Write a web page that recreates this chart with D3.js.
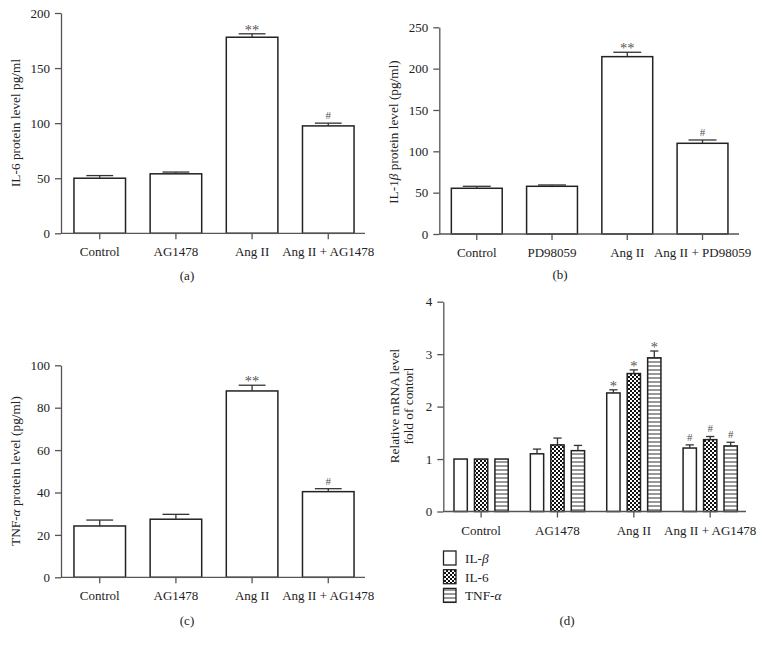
<!DOCTYPE html>
<html><head><meta charset="utf-8">
<script src="https://cdn.jsdelivr.net/npm/d3@7"></script>
<style>
html,body{margin:0;padding:0;background:#fff;}
svg text{font-family:"Liberation Serif","Times New Roman",serif;fill:#222;}
</style></head>
<body><svg id="chart" width="758" height="648"></svg>
<script>
// ---------- data ----------
const groupsAG = ["Control", "AG1478", "Ang II", "Ang II + AG1478"];
const groupsPD = ["Control", "PD98059", "Ang II", "Ang II + PD98059"];

const il6Protein = [50, 54, 178, 97.5];
const il6ProteinErr = [2.4, 1.6, 3.1, 2.5];
const il6ProteinMarks = ["", "", "**", "#"];
const il6Ticks = [0, 50, 100, 150, 200];

const il1bProtein = [55.3, 57.7, 214.5, 109.7];
const il1bProteinErr = [2.4, 1.6, 5.3, 4.0];
const il1bProteinMarks = ["", "", "**", "#"];
const il1bTicks = [0, 50, 100, 150, 200, 250];

const tnfProtein = [24.2, 27.4, 87.9, 40.4];
const tnfProteinErr = [2.8, 2.3, 2.7, 1.4];
const tnfProteinMarks = ["", "", "**", "#"];
const tnfTicks = [0, 20, 40, 60, 80, 100];

const mrnaSeries = ["IL-β", "IL-6", "TNF-α"];
const mrnaIL1b = [1.0, 1.10, 2.26, 1.21];
const mrnaIL1bErr = [0, 0.09, 0.06, 0.06];
const mrnaIL6 = [1.0, 1.27, 2.63, 1.37];
const mrnaIL6Err = [0, 0.13, 0.07, 0.06];
const mrnaTNF = [1.0, 1.16, 2.93, 1.25];
const mrnaTNFErr = [0, 0.10, 0.13, 0.07];
const mrnaMarks = ["", "", "*", "#"];
const mrnaTicks = [0, 1, 2, 3, 4];

// ---------- setup ----------
const svg = d3.select("#chart");
const defs = svg.append("defs");
const chk = defs.append("pattern").attr("id", "checker").attr("patternUnits", "userSpaceOnUse")
  .attr("width", 4).attr("height", 4);
chk.append("rect").attr("width", 4).attr("height", 4).attr("fill", "#fff");
chk.append("rect").attr("width", 2).attr("height", 2).attr("fill", "#111");
chk.append("rect").attr("x", 2).attr("y", 2).attr("width", 2).attr("height", 2).attr("fill", "#111");
const str = defs.append("pattern").attr("id", "stripes").attr("patternUnits", "userSpaceOnUse")
  .attr("width", 8).attr("height", 4);
str.append("rect").attr("width", 8).attr("height", 4).attr("fill", "#fff");
str.append("rect").attr("y", 1.5).attr("width", 8).attr("height", 1).attr("fill", "#333");

const seriesFills = ["#fff", "url(#checker)", "url(#stripes)"];
const AXIS = "#555";
const FONT = 13;

function label(g, x, y, parts, opts = {}) {
  const t = g.append("text").attr("x", x).attr("y", y)
    .attr("text-anchor", opts.anchor || "middle")
    .style("font-size", (opts.size || FONT) + "px");
  if (opts.rotate) t.attr("transform", `rotate(-90,${x},${y})`);
  parts.forEach(p => {
    const ts = t.append("tspan").text(p.t !== undefined ? p.t : p);
    if (p.i) ts.style("font-style", "italic");
  });
  return t;
}

function panel(cfg) {
  const g = svg.append("g");
  const y = d3.scaleLinear().domain([0, cfg.yMax]).range([cfg.yBottom, cfg.yTop]);
  const x = d3.scaleBand().domain(cfg.cats).range([cfg.x0, cfg.x1])
    .paddingInner(cfg.pi).paddingOuter(cfg.po);
  const nS = cfg.series.length;
  const xs = d3.scaleBand().domain(d3.range(nS)).range([0, x.bandwidth()])
    .paddingInner(nS > 1 ? 0.35 : 0);

  // y axis
  const ya = g.append("g").attr("transform", `translate(${cfg.x0},0)`)
    .call(d3.axisLeft(y).tickValues(cfg.ticks).tickFormat(d3.format("d"))
      .tickSize(6).tickPadding(5).tickSizeOuter(0));
  ya.select(".domain").attr("stroke", AXIS).attr("stroke-width", 1.3);
  ya.selectAll(".tick line").attr("stroke", AXIS).attr("stroke-width", 1.3);
  ya.selectAll(".tick text").style("font-size", FONT + "px")
    .style("font-family", '"Liberation Serif",serif').attr("fill", "#222");

  // bars
  cfg.series.forEach((s, si) => {
    const bx = (i) => x(cfg.cats[i]) + xs(si);
    const bw = xs.bandwidth();
    g.selectAll(null).data(s.values).enter().append("rect")
      .attr("x", (d, i) => bx(i)).attr("width", bw)
      .attr("y", d => y(d)).attr("height", d => y(0) - y(d))
      .attr("fill", seriesFills[si]).attr("stroke", "#222").attr("stroke-width", 1.5);
    const capW = bw * cfg.cap;
    s.values.forEach((v, i) => {
      const e = s.errs[i];
      const cx = bx(i) + bw / 2;
      if (e > 0) {
        g.append("line").attr("x1", cx).attr("x2", cx).attr("y1", y(v)).attr("y2", y(v + e))
          .attr("stroke", "#333").attr("stroke-width", 1.3);
        g.append("line").attr("x1", cx - capW / 2).attr("x2", cx + capW / 2)
          .attr("y1", y(v + e)).attr("y2", y(v + e)).attr("stroke", "#333").attr("stroke-width", 1.3);
      }
      const m = s.marks[i];
      if (m) {
        const isStar = m.indexOf("*") >= 0;
        g.append("text").attr("x", cx).attr("y", y(v + e) + (isStar ? 1 : -4))
          .attr("text-anchor", "middle").style("font-size", isStar ? "14.5px" : "11px")
          .style("fill", "#555").text(m);
      }
    });
  });

  // x axis
  g.append("line").attr("x1", cfg.x0).attr("x2", cfg.xEnd).attr("y1", y(0)).attr("y2", y(0))
    .attr("stroke", AXIS).attr("stroke-width", 1.3);
  cfg.cats.forEach(c => {
    const cx = x(c) + x.bandwidth() / 2;
    g.append("line").attr("x1", cx).attr("x2", cx).attr("y1", y(0)).attr("y2", y(0) + 6)
      .attr("stroke", AXIS).attr("stroke-width", 1.3);
    label(g, cx, y(0) + 23, [c]);
  });

  // y label
  cfg.yLabel.forEach((ln, k) => label(g, cfg.yLabelX + k * 13.5, cfg.yLabelY, ln, { rotate: true, size: 13.3 }));
  // panel letter
  label(g, cfg.letterX, cfg.letterY, [cfg.letter]);
  return { g, x, xs, y };
}

panel({
  cats: groupsAG, x0: 61, x1: 367, xEnd: 365, pi: 0.323, po: 0.17, yTop: 13, yBottom: 233.3, yMax: 200,
  ticks: il6Ticks, cap: 0.52,
  series: [{ values: il6Protein, errs: il6ProteinErr, marks: il6ProteinMarks }],
  yLabel: [["IL-6 protein level pg/ml"]], yLabelX: 20, yLabelY: 123,
  letter: "(a)", letterX: 187, letterY: 280
});

panel({
  cats: groupsPD, x0: 439.3, x1: 740, xEnd: 739, pi: 0.324, po: 0.16, yTop: 27.3, yBottom: 234, yMax: 250,
  ticks: il1bTicks, cap: 0.55,
  series: [{ values: il1bProtein, errs: il1bProteinErr, marks: il1bProteinMarks }],
  yLabel: [[{ t: "IL-1" }, { t: "β", i: true }, { t: " protein level (pg/ml)" }]], yLabelX: 398, yLabelY: 132,
  letter: "(b)", letterX: 560, letterY: 279
});

panel({
  cats: groupsAG, x0: 61, x1: 367, xEnd: 365, pi: 0.323, po: 0.17, yTop: 365.3, yBottom: 577.3, yMax: 100,
  ticks: tnfTicks, cap: 0.52,
  series: [{ values: tnfProtein, errs: tnfProteinErr, marks: tnfProteinMarks }],
  yLabel: [[{ t: "TNF-" }, { t: "α", i: true }, { t: " protein level (pg/ml)" }]], yLabelX: 20, yLabelY: 471,
  letter: "(c)", letterX: 187, letterY: 625
});

panel({
  cats: groupsAG, x0: 443.3, x1: 748, xEnd: 746, pi: 0.29, po: 0.14, yTop: 301.7, yBottom: 511.5, yMax: 4,
  ticks: mrnaTicks, cap: 0.62,
  series: [
    { values: mrnaIL1b, errs: mrnaIL1bErr, marks: mrnaMarks },
    { values: mrnaIL6, errs: mrnaIL6Err, marks: mrnaMarks },
    { values: mrnaTNF, errs: mrnaTNFErr, marks: mrnaMarks }
  ],
  yLabel: [["Relative mRNA level"], ["fold of contorl"]], yLabelX: 399, yLabelY: 406,
  letter: "(d)", letterX: 567, letterY: 625
});

// legend for (d)
const leg = svg.append("g");
const legendLabels = [[{ t: "IL-" }, { t: "β", i: true }], [{ t: "IL-6" }], [{ t: "TNF-" }, { t: "α", i: true }]];
mrnaSeries.forEach((s, i) => {
  const yy = 551 + i * 18.7;
  leg.append("rect").attr("x", 443.5).attr("y", yy).attr("width", 12.5).attr("height", 14)
    .attr("fill", seriesFills[i]).attr("stroke", "#222").attr("stroke-width", 1.3);
  label(leg, 465, yy + 12, legendLabels[i], { anchor: "start", size: 13.3 });
});
</script></body></html>
